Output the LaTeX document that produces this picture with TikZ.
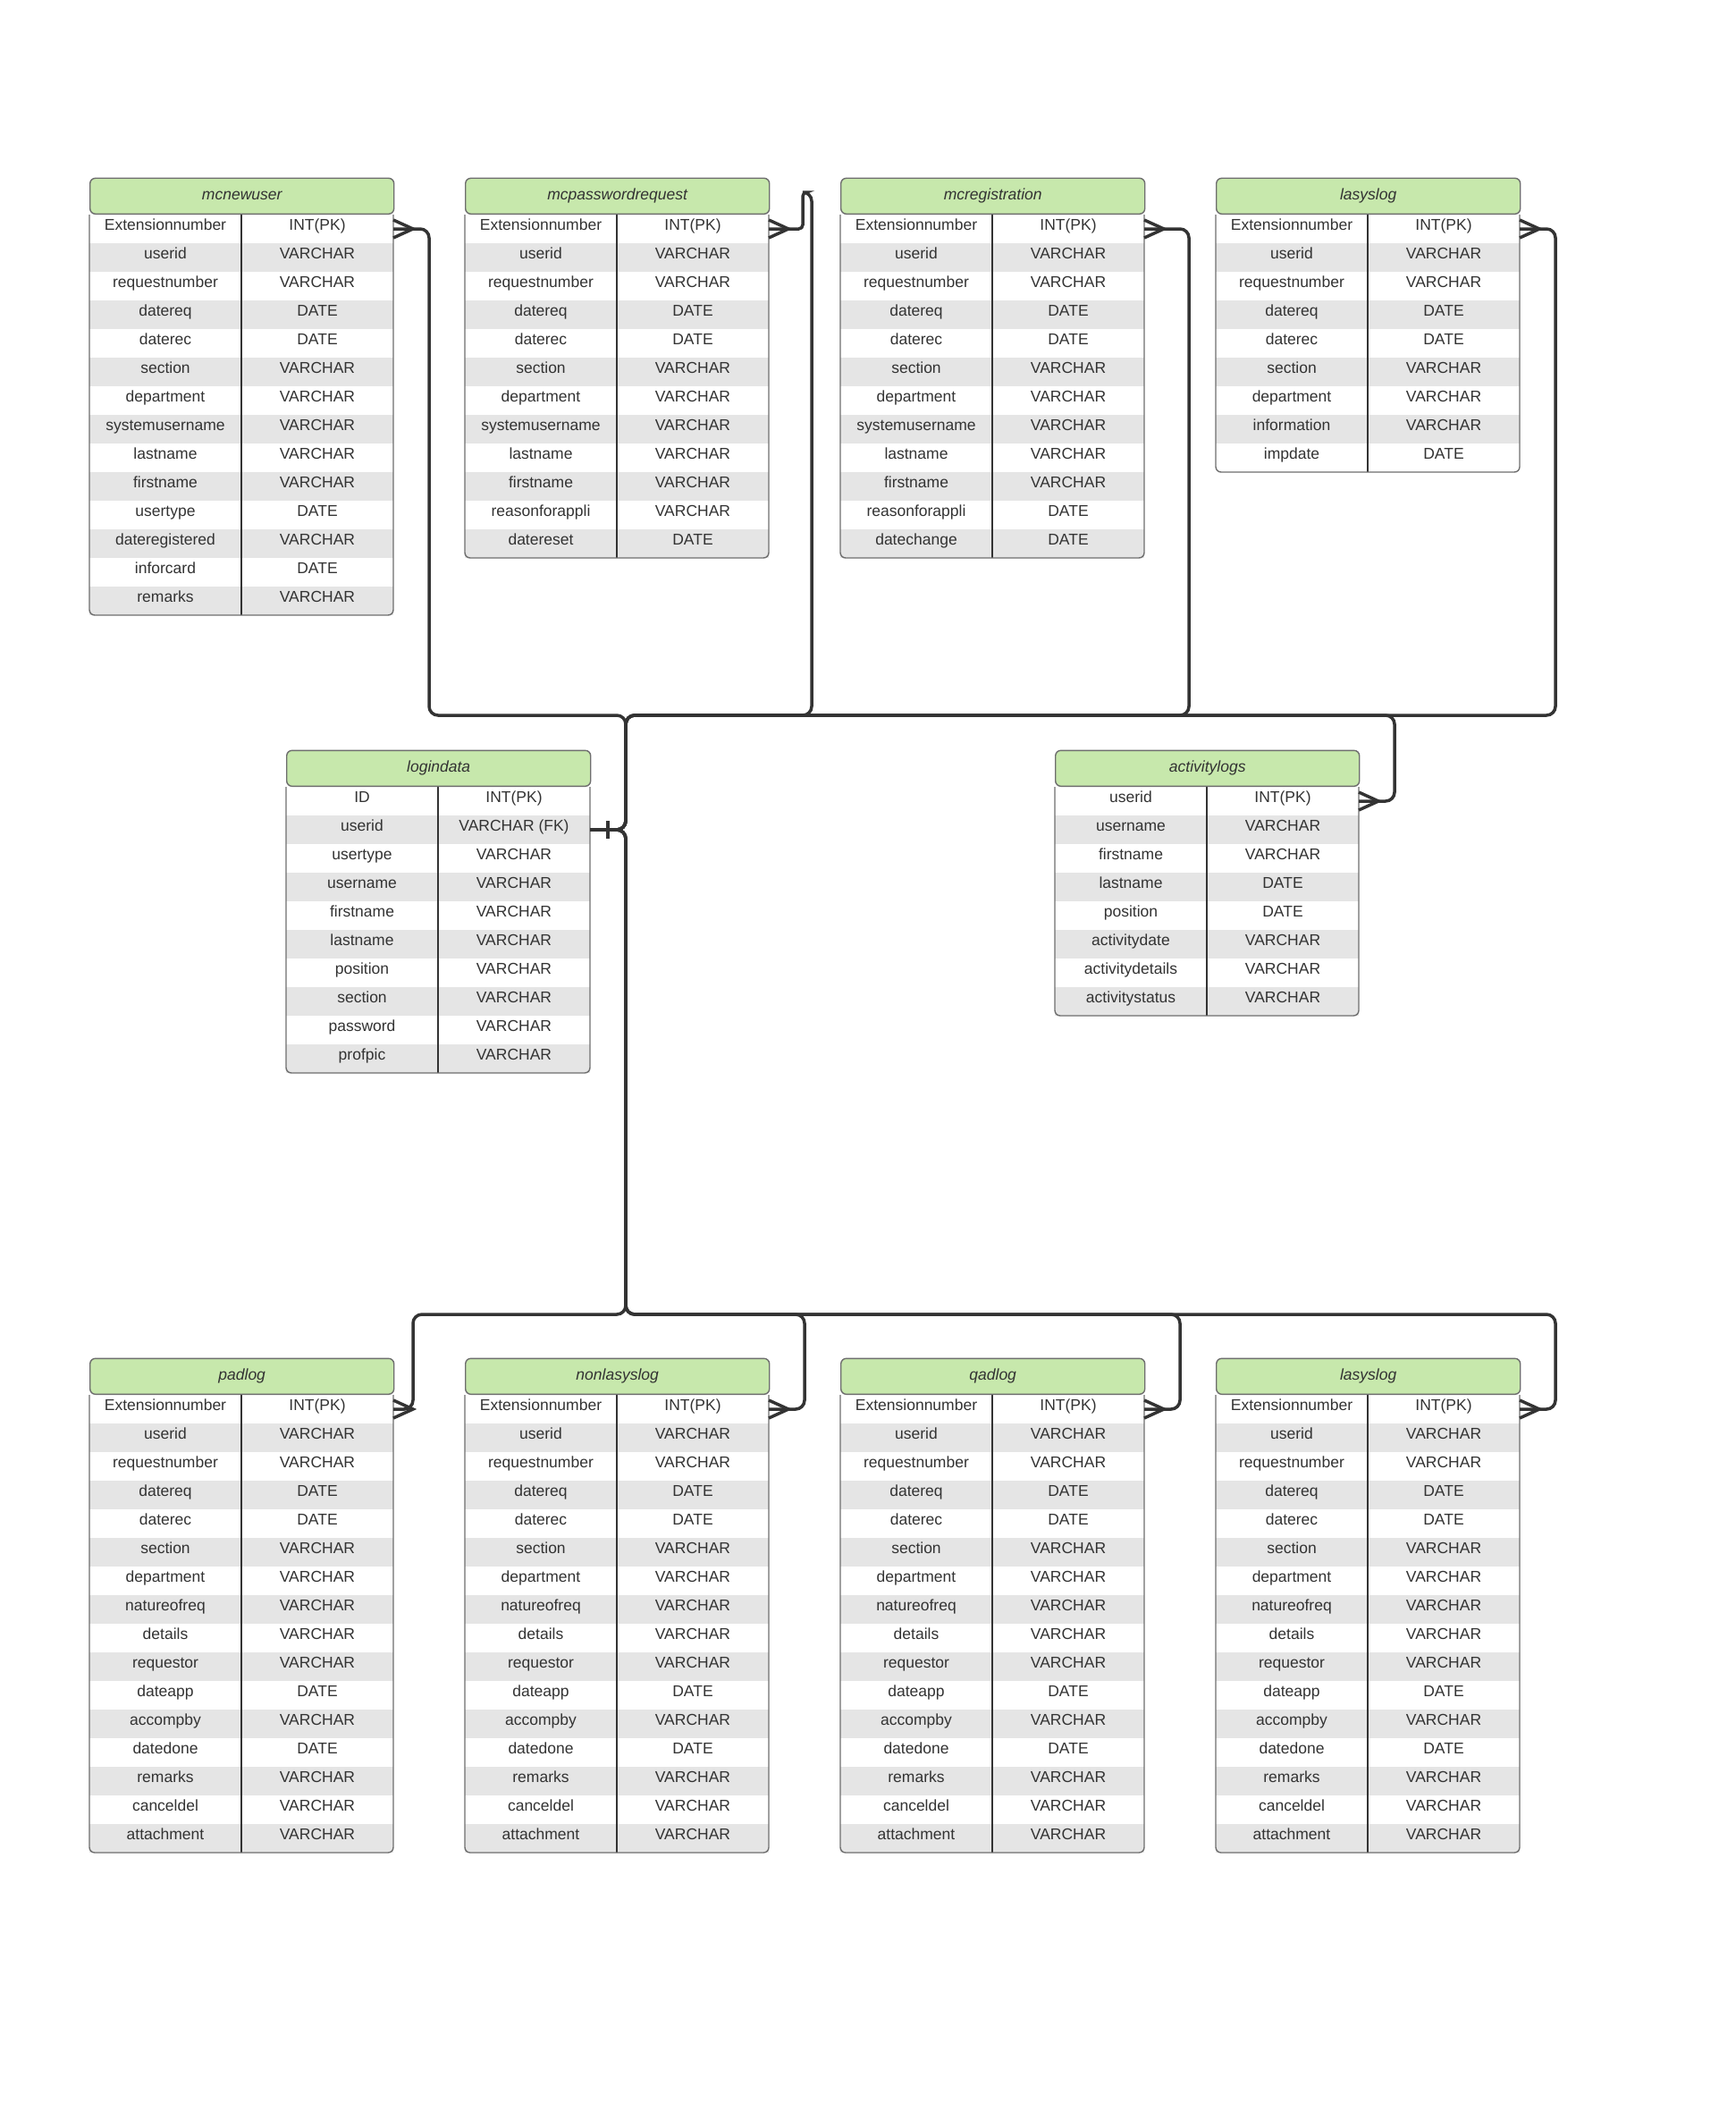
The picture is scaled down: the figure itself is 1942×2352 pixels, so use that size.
\documentclass[tikz,border=0pt]{standalone}
\usepackage{fontspec}
\setmainfont{Liberation Sans}
\usepackage{tikz}
\usetikzlibrary{matrix,calc}

\definecolor{headgreen}{RGB}{199,232,172}
\definecolor{rowgray}{RGB}{229,229,229}
\definecolor{framegray}{RGB}{110,110,110}
\definecolor{inkgray}{RGB}{51,51,51}

\begin{document}
\begin{tikzpicture}[
	x=1pt, y=-1pt,
	rowfill/.code={\ifodd\pgfmatrixcurrentrow\else\pgfkeysalso{fill=rowgray}\fi},
	tbl/.style={
		matrix of nodes, anchor=north west,
		column sep=0pt, row sep=0pt, inner sep=0pt, outer sep=0pt,
		nodes={
			rowfill, minimum width=170pt, minimum height=32pt,
			inner sep=0pt, outer sep=0pt, anchor=center,
			text height=12pt, text depth=9pt,
			font=\fontsize{17.5}{20}\selectfont, text=inkgray
		}
	},
	head/.style={
		draw=framegray, line width=1.4pt, fill=headgreen, rounded corners=6pt,
		minimum width=340pt, minimum height=40pt, inner sep=0pt,
		anchor=south west, text height=12pt, text depth=3pt,
		font=\fontsize{17.5}{20}\selectfont\itshape, text=inkgray
	},
	rel/.style={draw=inkgray, line width=3.5pt, rounded corners=10pt},
	crow/.pic={\draw[inkgray, line width=3.5pt] (0,-10) -- (22,0) -- (0,10);},
	onebar/.pic={\draw[inkgray, line width=3.5pt] (0,-10) -- (0,10);}
]
\path[fill=white] (0,0) rectangle (1942,2352);

% top row
\matrix (mcnewuser) [tbl] at (100,240) {
 Extensionnumber & INT(PK) \\
 userid & VARCHAR \\
 requestnumber & VARCHAR \\
 datereq & DATE \\
 daterec & DATE \\
 section & VARCHAR \\
 department & VARCHAR \\
 systemusername & VARCHAR \\
 lastname & VARCHAR \\
 firstname & VARCHAR \\
 usertype & DATE \\
 dateregistered & VARCHAR \\
 inforcard & DATE \\
 remarks & VARCHAR \\
};
\matrix (mcpasswordrequest) [tbl] at (520,240) {
 Extensionnumber & INT(PK) \\
 userid & VARCHAR \\
 requestnumber & VARCHAR \\
 datereq & DATE \\
 daterec & DATE \\
 section & VARCHAR \\
 department & VARCHAR \\
 systemusername & VARCHAR \\
 lastname & VARCHAR \\
 firstname & VARCHAR \\
 reasonforappli & VARCHAR \\
 datereset & DATE \\
};
\matrix (mcregistration) [tbl] at (940,240) {
 Extensionnumber & INT(PK) \\
 userid & VARCHAR \\
 requestnumber & VARCHAR \\
 datereq & DATE \\
 daterec & DATE \\
 section & VARCHAR \\
 department & VARCHAR \\
 systemusername & VARCHAR \\
 lastname & VARCHAR \\
 firstname & VARCHAR \\
 reasonforappli & DATE \\
 datechange & DATE \\
};
\matrix (lasyslog) [tbl] at (1360,240) {
 Extensionnumber & INT(PK) \\
 userid & VARCHAR \\
 requestnumber & VARCHAR \\
 datereq & DATE \\
 daterec & DATE \\
 section & VARCHAR \\
 department & VARCHAR \\
 information & VARCHAR \\
 impdate & DATE \\
};

% middle row
\matrix (logindata) [tbl] at (320,880) {
 ID & INT(PK) \\
 userid & VARCHAR (FK) \\
 usertype & VARCHAR \\
 username & VARCHAR \\
 firstname & VARCHAR \\
 lastname & VARCHAR \\
 position & VARCHAR \\
 section & VARCHAR \\
 password & VARCHAR \\
 profpic & VARCHAR \\
};
\matrix (activitylogs) [tbl] at (1180,880) {
 userid & INT(PK) \\
 username & VARCHAR \\
 firstname & VARCHAR \\
 lastname & DATE \\
 position & DATE \\
 activitydate & VARCHAR \\
 activitydetails & VARCHAR \\
 activitystatus & VARCHAR \\
};

% bottom row
\matrix (padlog) [tbl] at (100,1560) {
 Extensionnumber & INT(PK) \\
 userid & VARCHAR \\
 requestnumber & VARCHAR \\
 datereq & DATE \\
 daterec & DATE \\
 section & VARCHAR \\
 department & VARCHAR \\
 natureofreq & VARCHAR \\
 details & VARCHAR \\
 requestor & VARCHAR \\
 dateapp & DATE \\
 accompby & VARCHAR \\
 datedone & DATE \\
 remarks & VARCHAR \\
 canceldel & VARCHAR \\
 attachment & VARCHAR \\
};
\matrix (nonlasyslog) [tbl] at (520,1560) {
 Extensionnumber & INT(PK) \\
 userid & VARCHAR \\
 requestnumber & VARCHAR \\
 datereq & DATE \\
 daterec & DATE \\
 section & VARCHAR \\
 department & VARCHAR \\
 natureofreq & VARCHAR \\
 details & VARCHAR \\
 requestor & VARCHAR \\
 dateapp & DATE \\
 accompby & VARCHAR \\
 datedone & DATE \\
 remarks & VARCHAR \\
 canceldel & VARCHAR \\
 attachment & VARCHAR \\
};
\matrix (qadlog) [tbl] at (940,1560) {
 Extensionnumber & INT(PK) \\
 userid & VARCHAR \\
 requestnumber & VARCHAR \\
 datereq & DATE \\
 daterec & DATE \\
 section & VARCHAR \\
 department & VARCHAR \\
 natureofreq & VARCHAR \\
 details & VARCHAR \\
 requestor & VARCHAR \\
 dateapp & DATE \\
 accompby & VARCHAR \\
 datedone & DATE \\
 remarks & VARCHAR \\
 canceldel & VARCHAR \\
 attachment & VARCHAR \\
};
\matrix (lasyslogb) [tbl] at (1360,1560) {
 Extensionnumber & INT(PK) \\
 userid & VARCHAR \\
 requestnumber & VARCHAR \\
 datereq & DATE \\
 daterec & DATE \\
 section & VARCHAR \\
 department & VARCHAR \\
 natureofreq & VARCHAR \\
 details & VARCHAR \\
 requestor & VARCHAR \\
 dateapp & DATE \\
 accompby & VARCHAR \\
 datedone & DATE \\
 remarks & VARCHAR \\
 canceldel & VARCHAR \\
 attachment & VARCHAR \\
};

\foreach \t/\n/\ttl in {mcnewuser/14/mcnewuser, mcpasswordrequest/12/mcpasswordrequest,
	mcregistration/12/mcregistration, lasyslog/9/lasyslog, logindata/10/logindata,
	activitylogs/8/activitylogs, padlog/16/padlog, nonlasyslog/16/nonlasyslog,
	qadlog/16/qadlog, lasyslogb/16/lasyslog} {
	\draw[inkgray, line width=1.2pt] (\t-1-1.north east) -- (\t-\n-1.south east);
	\draw[framegray, line width=1.4pt, rounded corners=6pt]
		(\t.north west) |- (\t.south) -| (\t.north east);
	\node[head] (\t-h) at (\t.north west) {\ttl};
}

% relations
\coordinate (jtop) at (700,800);
\coordinate (jbot) at (700,1470);
\coordinate (hook) at (908,215);

\draw[rel] (logindata-2-2.east) -| (jtop) -| ($(mcnewuser-1-2.east)+(40,0)$) -- (mcnewuser-1-2.east);
\draw[rel] (logindata-2-2.east) -| (jtop) -| (hook) [rounded corners=4.5pt]
	-| ($(mcpasswordrequest-1-2.east)+(38,0)$) [rounded corners=10pt] -- (mcpasswordrequest-1-2.east);
\draw[rel] (logindata-2-2.east) -| (jtop) -| ($(mcregistration-1-2.east)+(50,0)$) -- (mcregistration-1-2.east);
\draw[rel] (logindata-2-2.east) -| (jtop) -| ($(lasyslog-1-2.east)+(40,0)$) -- (lasyslog-1-2.east);
\draw[rel] (logindata-2-2.east) -| (jtop) -| ($(activitylogs-1-2.east)+(40,0)$) -- (activitylogs-1-2.east);

\draw[rel] (logindata-2-2.east) -| (jbot) -| ($(padlog-1-2.east)+(22,0)$) -- (padlog-1-2.east);
\draw[rel] (logindata-2-2.east) -| (jbot) -| ($(nonlasyslog-1-2.east)+(40,0)$) -- (nonlasyslog-1-2.east);
\draw[rel] (logindata-2-2.east) -| (jbot) -| ($(qadlog-1-2.east)+(40,0)$) -- (qadlog-1-2.east);
\draw[rel] (logindata-2-2.east) -| (jbot) -| ($(lasyslogb-1-2.east)+(40,0)$) -- (lasyslogb-1-2.east);

\foreach \t in {mcnewuser,mcpasswordrequest,mcregistration,lasyslog,activitylogs,padlog,nonlasyslog,qadlog,lasyslogb}
	\pic at (\t-1-2.east) {crow};
\pic at ($(logindata-2-2.east)+(20,0)$) {onebar};
\end{tikzpicture}
\end{document}
